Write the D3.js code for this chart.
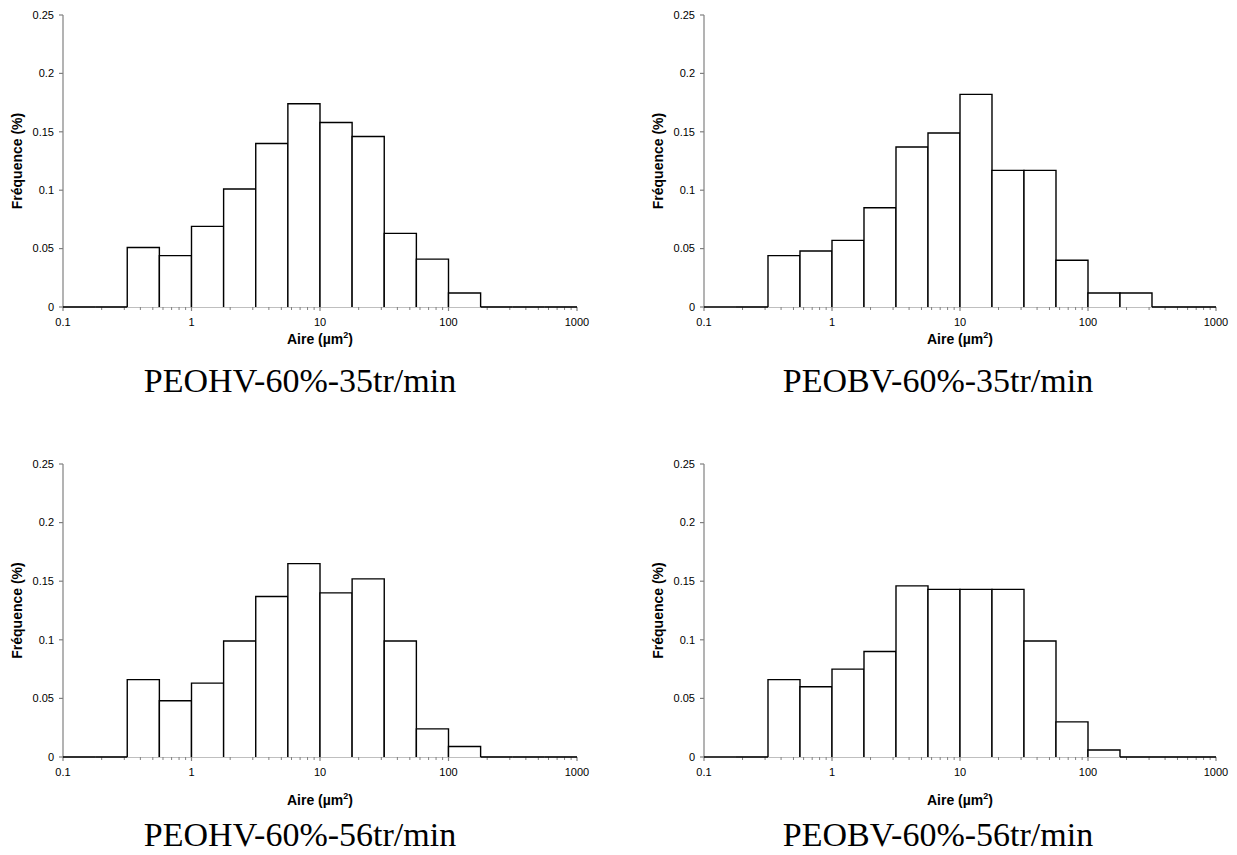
<!DOCTYPE html>
<html><head><meta charset="utf-8">
<script src="https://cdn.jsdelivr.net/npm/d3@7"></script>
<style>body{margin:0;background:#fff}svg{display:block}</style>
</head><body>
<svg id="c" width="1237" height="855"></svg>
<script>
// Bin edges (quarter-decade classes of area, µm²)
const binEdges = [0.1, 0.1778, 0.3162, 0.5623, 1, 1.778, 3.162, 5.623, 10, 17.78, 31.62, 56.23, 100, 177.8, 316.2, 562.3, 1000];
// Frequencies per bin
const freqPEOHV35 = [0, 0, 0.051, 0.044, 0.069, 0.101, 0.140, 0.174, 0.158, 0.146, 0.063, 0.041, 0.012, 0, 0, 0];
const freqPEOBV35 = [0, 0, 0.044, 0.048, 0.057, 0.085, 0.137, 0.149, 0.182, 0.117, 0.117, 0.040, 0.012, 0.012, 0, 0];
const freqPEOHV56 = [0, 0, 0.066, 0.048, 0.063, 0.099, 0.137, 0.165, 0.140, 0.152, 0.099, 0.024, 0.009, 0, 0, 0];
const freqPEOBV56 = [0, 0, 0.066, 0.060, 0.075, 0.090, 0.146, 0.143, 0.143, 0.143, 0.099, 0.030, 0.006, 0, 0, 0];
const panelTitles = ["PEOHV-60%-35tr/min", "PEOBV-60%-35tr/min", "PEOHV-60%-56tr/min", "PEOBV-60%-56tr/min"];
const xTicks = [0.1, 1, 10, 100, 1000];
const xTickLabels = ["0.1", "1", "10", "100", "1000"];
const yTicks = [0, 0.05, 0.1, 0.15, 0.2, 0.25];
const yTickLabels = ["0", "0.05", "0.1", "0.15", "0.2", "0.25"];

const series = [freqPEOHV35, freqPEOBV35, freqPEOHV56, freqPEOBV56];
const layout = [
  {x0: 63, x1: 577, yTop: 15, yBot: 307, titleY: 392, axTitleY: 344, titleX: 300},
  {x0: 704, x1: 1216, yTop: 15, yBot: 307, titleY: 392, axTitleY: 344, titleX: 938},
  {x0: 63, x1: 577, yTop: 464, yBot: 757, titleY: 846, axTitleY: 805, titleX: 300},
  {x0: 704, x1: 1216, yTop: 464, yBot: 757, titleY: 846, axTitleY: 805, titleX: 938}
];

const svg = d3.select("#c");
const axisColor = "#808080";

series.forEach((vals, i) => {
  const L = layout[i];
  const x = d3.scaleLog().domain([0.1, 1000]).range([L.x0, L.x1]);
  const y = d3.scaleLinear().domain([0, 0.25]).range([L.yBot, L.yTop]);
  const g = svg.append("g");

  // axes lines
  g.append("line").attr("x1", L.x0).attr("x2", L.x0).attr("y1", L.yTop).attr("y2", L.yBot)
    .attr("stroke", axisColor).attr("stroke-width", 1.2);
  g.append("line").attr("x1", L.x0).attr("x2", L.x1).attr("y1", L.yBot).attr("y2", L.yBot)
    .attr("stroke", axisColor).attr("stroke-width", 1.2);

  // y ticks
  yTicks.forEach((t, k) => {
    g.append("line").attr("x1", L.x0 - 4).attr("x2", L.x0).attr("y1", y(t)).attr("y2", y(t))
      .attr("stroke", axisColor).attr("stroke-width", 1.2);
    g.append("text").attr("x", L.x0 - 9).attr("y", y(t)).attr("dy", "0.35em")
      .attr("text-anchor", "end").attr("font-family", "Liberation Sans, Arial, sans-serif")
      .attr("font-size", 11).text(yTickLabels[k]);
  });

  // x minor ticks
  const minor = [];
  for (let d = 0.1; d < 1000; d *= 10) for (let m = 2; m <= 9; m++) minor.push(d * m);
  minor.forEach(t => {
    g.append("line").attr("x1", x(t)).attr("x2", x(t)).attr("y1", L.yBot).attr("y2", L.yBot + 3)
      .attr("stroke", axisColor).attr("stroke-width", 1);
  });
  xTicks.forEach((t, k) => {
    g.append("line").attr("x1", x(t)).attr("x2", x(t)).attr("y1", L.yBot).attr("y2", L.yBot + 4)
      .attr("stroke", axisColor).attr("stroke-width", 1.2);
    g.append("text").attr("x", x(t)).attr("y", L.yBot + 19)
      .attr("text-anchor", "middle").attr("font-family", "Liberation Sans, Arial, sans-serif")
      .attr("font-size", 11).text(xTickLabels[k]);
  });

  // bars
  vals.forEach((v, k) => {
    const a = x(binEdges[k]), b = x(binEdges[k + 1]);
    g.append("path")
      .attr("d", `M${a},${y(0)}V${y(v)}H${b}V${y(0)}`)
      .attr("fill", "#fff").attr("stroke", "#000").attr("stroke-width", 1.4);
  });

  // axis titles
  g.append("text").attr("transform", `translate(${L.x0 - 46},${(L.yTop + L.yBot) / 2}) rotate(-90)`)
    .attr("text-anchor", "middle").attr("dy", "0.35em")
    .attr("font-family", "Liberation Sans, Arial, sans-serif").attr("font-weight", "bold")
    .attr("font-size", 14).text("Fréquence (%)");
  const at = g.append("text").attr("x", (L.x0 + L.x1) / 2).attr("y", L.axTitleY)
    .attr("text-anchor", "middle").attr("font-family", "Liberation Sans, Arial, sans-serif")
    .attr("font-weight", "bold").attr("font-size", 14);
  at.append("tspan").text("Aire (µm");
  at.append("tspan").attr("dy", -6).attr("font-size", 9).text("2");
  at.append("tspan").attr("dy", 6).text(")");

  // panel titles
  g.append("text").attr("x", L.titleX).attr("y", L.titleY)
    .attr("text-anchor", "middle").attr("font-family", "Liberation Serif, Times New Roman, serif")
    .attr("font-size", 34).text(panelTitles[i]);
});
</script>
</body></html>
